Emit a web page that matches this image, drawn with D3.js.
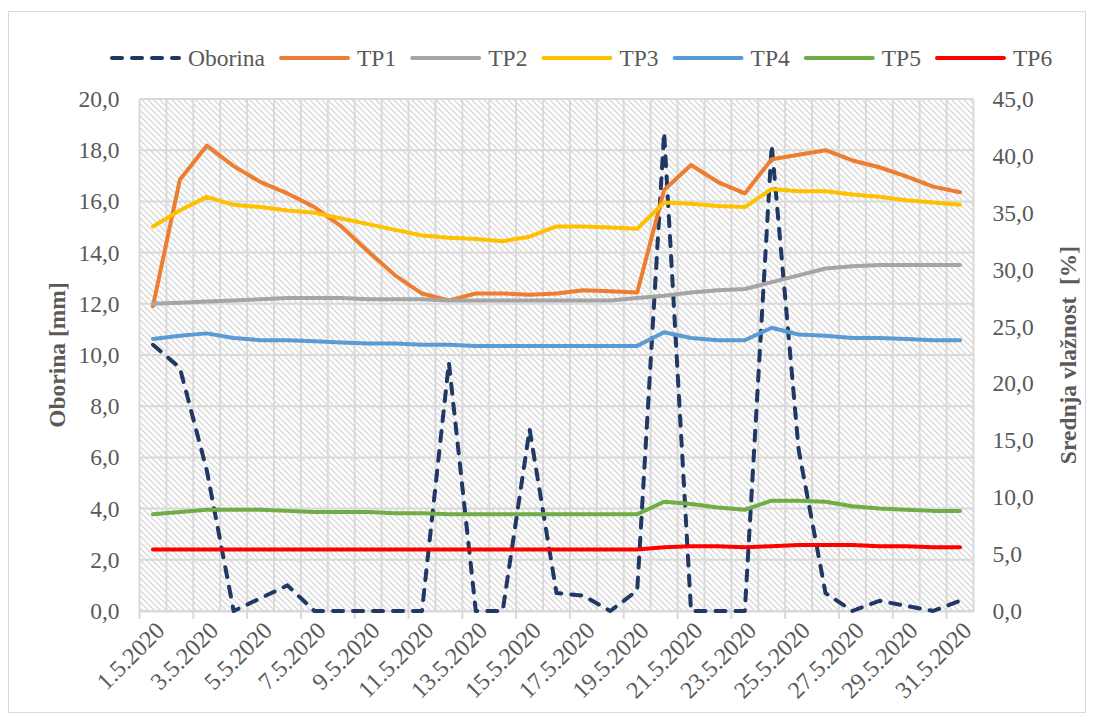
<!DOCTYPE html>
<html>
<head>
<meta charset="utf-8">
<script src="https://cdn.jsdelivr.net/npm/d3@7"></script>
<style>
  body { margin: 0; background: #fff; }
  svg text { font-family: "Liberation Serif", "Times New Roman", serif; fill: #595959; }
</style>
</head>
<body>
<div class="chart-box"></div>
<script>
const dates = ["1.5.2020", "2.5.2020", "3.5.2020", "4.5.2020", "5.5.2020", "6.5.2020", "7.5.2020",
  "8.5.2020", "9.5.2020", "10.5.2020", "11.5.2020", "12.5.2020", "13.5.2020", "14.5.2020",
  "15.5.2020", "16.5.2020", "17.5.2020", "18.5.2020", "19.5.2020", "20.5.2020", "21.5.2020",
  "22.5.2020", "23.5.2020", "24.5.2020", "25.5.2020", "26.5.2020", "27.5.2020", "28.5.2020",
  "29.5.2020", "30.5.2020", "31.5.2020"];

// precipitation, left axis [mm]
const oborina = [10.4, 9.5, 5.5, 0.0, 0.5, 1.0, 0.0, 0.0, 0.0, 0.0, 0.0, 9.7, 0.0, 0.0, 7.1, 0.7,
  0.6, 0.0, 0.8, 18.7, 0.0, 0.0, 0.0, 18.2, 6.3, 0.7, 0.0, 0.4, 0.2, 0.0, 0.4];

// mean moisture, right axis [%]
const tp1 = [26.8, 37.9, 40.9, 39.1, 37.7, 36.7, 35.5, 33.8, 31.6, 29.5, 27.9, 27.3, 27.9, 27.9,
  27.8, 27.9, 28.2, 28.1, 28.0, 37.0, 39.2, 37.7, 36.7, 39.7, 40.1, 40.5, 39.6, 39.0, 38.2, 37.3, 36.8];
const tp2 = [27.0, 27.1, 27.2, 27.3, 27.4, 27.5, 27.5, 27.5, 27.4, 27.4, 27.4, 27.3, 27.3, 27.3,
  27.3, 27.3, 27.3, 27.3, 27.5, 27.7, 28.0, 28.2, 28.3, 28.9, 29.5, 30.1, 30.3, 30.4, 30.4, 30.4, 30.4];
const tp3 = [33.8, 35.2, 36.4, 35.7, 35.5, 35.2, 35.0, 34.5, 34.0, 33.5, 33.0, 32.8, 32.7, 32.5,
  32.9, 33.8, 33.8, 33.7, 33.6, 35.9, 35.8, 35.6, 35.5, 37.1, 36.9, 36.9, 36.6, 36.4, 36.1, 35.9, 35.7];
const tp4 = [23.9, 24.2, 24.4, 24.0, 23.8, 23.8, 23.7, 23.6, 23.5, 23.5, 23.4, 23.4, 23.3, 23.3,
  23.3, 23.3, 23.3, 23.3, 23.3, 24.5, 24.0, 23.8, 23.8, 24.9, 24.3, 24.2, 24.0, 24.0, 23.9, 23.8, 23.8];
const tp5 = [8.5, 8.7, 8.9, 8.9, 8.9, 8.8, 8.7, 8.7, 8.7, 8.6, 8.6, 8.5, 8.5, 8.5, 8.5, 8.5, 8.5,
  8.5, 8.5, 9.6, 9.4, 9.1, 8.9, 9.7, 9.7, 9.6, 9.2, 9.0, 8.9, 8.8, 8.8];
const tp6 = [5.4, 5.4, 5.4, 5.4, 5.4, 5.4, 5.4, 5.4, 5.4, 5.4, 5.4, 5.4, 5.4, 5.4, 5.4, 5.4, 5.4,
  5.4, 5.4, 5.6, 5.7, 5.7, 5.6, 5.7, 5.8, 5.8, 5.8, 5.7, 5.7, 5.6, 5.6];

const leftTicks = [0, 2, 4, 6, 8, 10, 12, 14, 16, 18, 20];
const rightTicks = [0, 5, 10, 15, 20, 25, 30, 35, 40, 45];

const series = [
  {name: "TP1", values: tp1, color: "#ED7D31"},
  {name: "TP2", values: tp2, color: "#A5A5A5"},
  {name: "TP3", values: tp3, color: "#FFC000"},
  {name: "TP4", values: tp4, color: "#5B9BD5"},
  {name: "TP5", values: tp5, color: "#70AD47"},
  {name: "TP6", values: tp6, color: "#FF0000"}
];

const W = 1094, H = 721;
const plot = {left: 139.5, right: 973.5, top: 99, bottom: 611};
const gridColor = "#d9d9d9";
const fmt = v => d3.format(".1f")(v).replace(".", ",");

const svg = d3.select(".chart-box").append("svg")
  .attr("width", W)
  .attr("height", H);

// diagonal hatch for plot background
svg.append("defs").append("pattern")
  .attr("id", "hatch")
  .attr("patternUnits", "userSpaceOnUse")
  .attr("width", 6)
  .attr("height", 6)
  .append("path")
  .attr("d", "M0,0 L6,6 M-1,5 L1,7 M5,-1 L7,1")
  .attr("stroke", "#dadada")
  .attr("stroke-width", 1.5);

// outer chart border
svg.append("rect")
  .attr("x", 8.5).attr("y", 11.5)
  .attr("width", 1077).attr("height", 701)
  .attr("fill", "#fff")
  .attr("stroke", gridColor);

const x = d3.scaleBand().domain(dates).range([plot.left, plot.right]);
const yL = d3.scaleLinear().domain([0, 20]).range([plot.bottom, plot.top]);
const yR = d3.scaleLinear().domain([0, 45]).range([plot.bottom, plot.top]);

svg.append("rect")
  .attr("x", plot.left).attr("y", plot.top)
  .attr("width", plot.right - plot.left).attr("height", plot.bottom - plot.top)
  .attr("fill", "url(#hatch)");

// gridlines
const grid = svg.append("g").attr("stroke", gridColor).attr("stroke-width", 2);
grid.selectAll(".hg").data(leftTicks).enter().append("line")
  .attr("x1", plot.left).attr("x2", plot.right)
  .attr("y1", d => yL(d)).attr("y2", d => yL(d));
grid.selectAll(".vg").data(dates).enter().append("line")
  .attr("x1", d => x(d)).attr("x2", d => x(d))
  .attr("y1", plot.top).attr("y2", plot.bottom);
grid.append("line")
  .attr("x1", plot.right).attr("x2", plot.right)
  .attr("y1", plot.top).attr("y2", plot.bottom);

// x axis with ticks every second category
const xAxis = svg.append("g")
  .attr("transform", "translate(0," + plot.bottom + ")")
  .call(d3.axisBottom(x).tickSize(0).tickFormat(""));
xAxis.select(".domain").attr("stroke", gridColor).attr("stroke-width", 2);
xAxis.selectAll(".tick").remove();
xAxis.selectAll(".xt").data(dates.filter((d, i) => i % 2 === 0)).enter().append("line")
  .attr("x1", d => x(d)).attr("x2", d => x(d))
  .attr("y1", 0).attr("y2", 8)
  .attr("stroke", gridColor).attr("stroke-width", 2);

svg.append("g").selectAll("text")
  .data(dates.filter((d, i) => i % 2 === 0))
  .enter().append("text")
  .attr("transform", d => "translate(" + (x(d) + x.bandwidth() / 2 + 7) + "," + (plot.bottom + 15) + ") rotate(-45)")
  .attr("text-anchor", "end")
  .attr("dy", "0.35em")
  .style("font-size", "24px")
  .text(d => d);

// left axis
const leftAxis = svg.append("g")
  .attr("transform", "translate(" + plot.left + ",0)")
  .call(d3.axisLeft(yL).tickValues(leftTicks).tickSize(0).tickPadding(20).tickFormat(fmt));
leftAxis.select(".domain").remove();
leftAxis.selectAll("text").style("font-size", "23.5px").attr("fill", "#595959");

// right axis
const rightAxis = svg.append("g")
  .attr("transform", "translate(" + plot.right + ",0)")
  .call(d3.axisRight(yR).tickValues(rightTicks).tickSize(0).tickPadding(19).tickFormat(fmt));
rightAxis.select(".domain").remove();
rightAxis.selectAll("text").style("font-size", "23.5px").attr("fill", "#595959");

// axis titles
const midY = (plot.top + plot.bottom) / 2;
svg.append("text")
  .attr("transform", "translate(57," + midY + ") rotate(-90)")
  .attr("text-anchor", "middle")
  .attr("dy", "0.35em")
  .style("font-size", "23.5px").style("font-weight", "bold")
  .text("Oborina [mm]");
svg.append("text")
  .attr("transform", "translate(1068," + midY + ") rotate(-90)")
  .attr("text-anchor", "middle")
  .attr("dy", "0.35em")
  .style("font-size", "23.5px").style("font-weight", "bold")
  .style("white-space", "pre")
  .text("Srednja vlažnost  [%]");

// lines
const cx = (d, i) => x(dates[i]) + x.bandwidth() / 2;

svg.append("path")
  .datum(oborina)
  .attr("fill", "none")
  .attr("stroke", "#1F3864")
  .attr("stroke-width", 4)
  .attr("stroke-linecap", "round")
  .attr("stroke-linejoin", "round")
  .attr("stroke-dasharray", "10,10")
  .attr("d", d3.line().x(cx).y(d => yL(d)));

svg.selectAll(".tp").data(series).enter().append("path")
  .attr("fill", "none")
  .attr("stroke", s => s.color)
  .attr("stroke-width", 4)
  .attr("stroke-linecap", "round")
  .attr("stroke-linejoin", "round")
  .attr("d", s => d3.line().x(cx).y(d => yR(d))(s.values));

// legend
const legendItems = [{name: "Oborina", color: "#1F3864", dashed: true}].concat(series);
const legend = svg.append("g");
let lx = 112;
const ly = 58;
legendItems.forEach(it => {
  legend.append("line")
    .attr("x1", lx).attr("x2", lx + 67)
    .attr("y1", ly).attr("y2", ly)
    .attr("stroke", it.color)
    .attr("stroke-width", 4)
    .attr("stroke-linecap", "round")
    .attr("stroke-dasharray", it.dashed ? "10,10" : null);
  const t = legend.append("text")
    .attr("x", lx + 76).attr("y", ly)
    .attr("dy", "0.35em")
    .style("font-size", "23.5px")
    .text(it.name);
  lx += 76 + t.node().getComputedTextLength() + 16;
});
</script>
</body>
</html>
